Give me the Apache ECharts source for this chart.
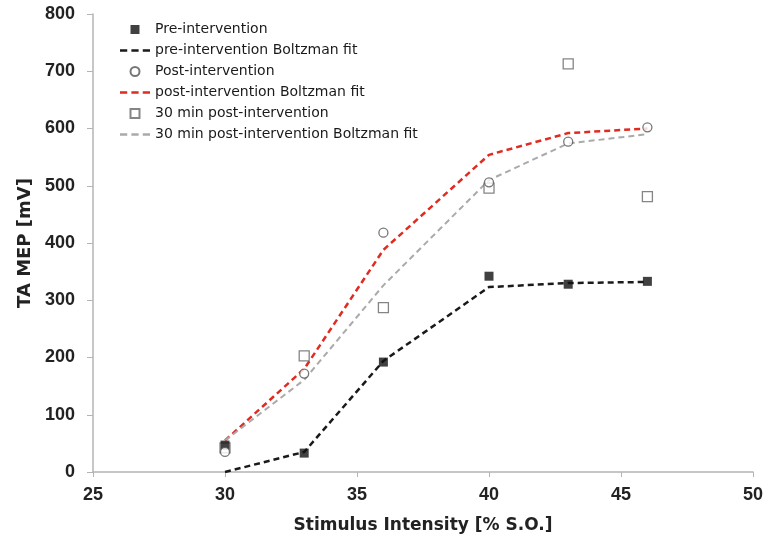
<!DOCTYPE html>
<html>
<head>
<meta charset="utf-8">
<script src="https://cdn.jsdelivr.net/npm/echarts@6/dist/echarts.min.js"></script>
<style>
  html, body { margin: 0; padding: 0; background: #fff; }
  #chart { width: 767px; height: 539px; }
</style>
</head>
<body>
<div id="chart"></div>
<script>
// Stimulus intensities (% of stimulator output)
const intensity = [30, 33, 36, 40, 43, 46];

// Measured TA MEP amplitudes (mV)
const preMeasured = [47, 33, 192, 342, 328, 333];
const postMeasured = [35, 172, 418, 506, 577, 602];
const post30Measured = [42, 203, 287, 496, 713, 481];

// Boltzmann fits
const preFit = [0, 35, 194, 323, 330, 332];
const postFit = [55, 180, 388, 554, 592, 600];
const post30Fit = [55, 161, 326, 510, 574, 590];

const pairs = ys => intensity.map((x, i) => [x, ys[i]]);

const chart = echarts.init(document.getElementById('chart'));
const tickFont = 'Liberation Sans, Arial, sans-serif';
const textFont = 'DejaVu Sans, sans-serif';

// legend glyphs: three short dashes, and a plain square
const dashIcon = 'path://M0,0h7v2.6h-7z M11,0h7v2.6h-7z M22,0h7v2.6h-7z';
const squareIcon = 'path://M0,0h10v10h-10z';

const fitLine = (name, ys, color, width) => ({
  name, type: 'line', data: pairs(ys), symbol: 'none', z: 2,
  lineStyle: { color, width, type: [6, 4] },
  itemStyle: { color }
});

chart.setOption({
  animation: false,
  backgroundColor: '#fff',
  grid: { left: 93, right: 14, top: 14, bottom: 67 },
  legend: {
    orient: 'vertical', left: 120, top: 22, padding: 0, itemGap: 6,
    itemWidth: 30, itemHeight: 9, symbolKeepAspect: true,
    textStyle: { fontFamily: textFont, fontSize: 14, color: '#1a1a1a', lineHeight: 15 },
    data: [
      { name: 'Pre-intervention', icon: squareIcon },
      { name: 'pre-intervention Boltzman fit', icon: dashIcon },
      { name: 'Post-intervention', icon: 'circle' },
      { name: 'post-intervention Boltzman fit', icon: dashIcon },
      { name: '30 min post-intervention', icon: squareIcon },
      { name: '30 min post-intervention Boltzman fit', icon: dashIcon }
    ]
  },
  xAxis: {
    type: 'value', min: 25, max: 50, interval: 5,
    name: 'Stimulus Intensity [% S.O.]', nameLocation: 'middle', nameGap: 45,
    nameTextStyle: { fontFamily: textFont, fontSize: 17, fontWeight: 'bold', color: '#222' },
    axisLine: { lineStyle: { color: '#b4b4b4', width: 1.5 } },
    axisTick: { show: true, length: 5, lineStyle: { color: '#b4b4b4' } },
    axisLabel: { fontFamily: tickFont, fontSize: 18, fontWeight: 'bold', color: '#222', margin: 14 },
    splitLine: { show: false }
  },
  yAxis: {
    type: 'value', min: 0, max: 800, interval: 100,
    name: 'TA MEP [mV]', nameLocation: 'middle', nameGap: 58, nameRotate: 90,
    nameTextStyle: { fontFamily: textFont, fontSize: 18, fontWeight: 'bold', color: '#222' },
    axisLine: { show: true, lineStyle: { color: '#b4b4b4', width: 1.5 } },
    axisTick: { show: true, length: 6, lineStyle: { color: '#b4b4b4' } },
    axisLabel: { fontFamily: tickFont, fontSize: 18, fontWeight: 'bold', color: '#222', margin: 18 },
    splitLine: { show: false }
  },
  series: [
    {
      name: 'Pre-intervention', type: 'scatter', data: pairs(preMeasured),
      symbol: 'rect', symbolSize: 9, z: 5,
      itemStyle: { color: '#111' }
    },
    fitLine('pre-intervention Boltzman fit', preFit, '#1a1a1a', 2.5),
    {
      name: 'Post-intervention', type: 'scatter', data: pairs(postMeasured),
      symbol: 'circle', symbolSize: 9, z: 5,
      itemStyle: { color: '#fff', borderColor: '#555', borderWidth: 1.3 }
    },
    fitLine('post-intervention Boltzman fit', postFit, '#e02b20', 2.5),
    {
      name: '30 min post-intervention', type: 'scatter', data: pairs(post30Measured),
      symbol: 'rect', symbolSize: 10, z: 4,
      itemStyle: { color: '#fff', borderColor: '#666', borderWidth: 1.3 }
    },
    fitLine('30 min post-intervention Boltzman fit', post30Fit, '#aaaaaa', 2)
  ]
});
</script>
</body>
</html>
